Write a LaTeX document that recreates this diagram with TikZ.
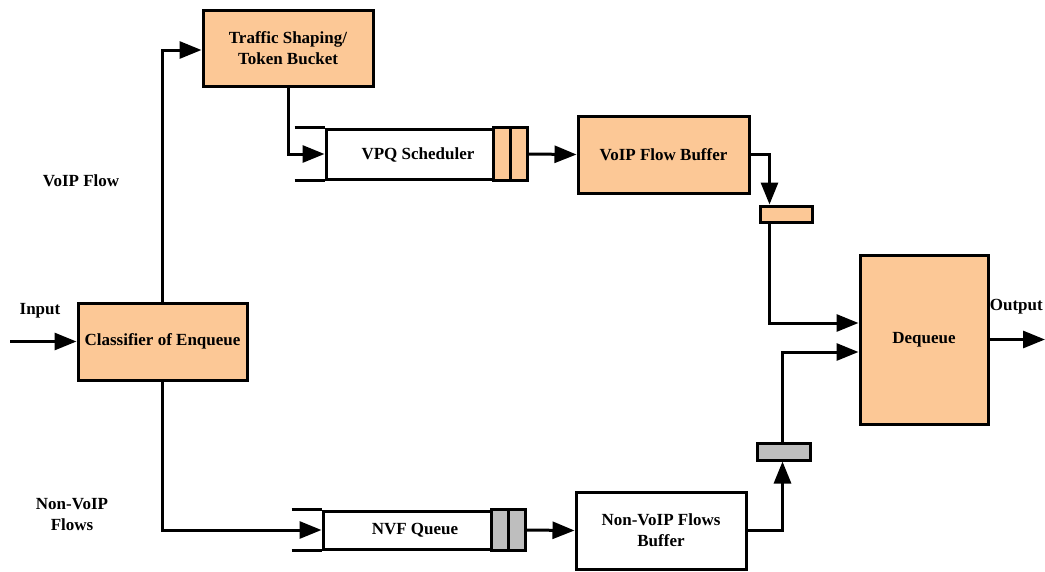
\documentclass[tikz,border=0pt]{standalone}
\usepackage{fontspec}
\setmainfont{Liberation Serif}
\usetikzlibrary{arrows.meta}
\definecolor{peach}{RGB}{252,200,150}
\definecolor{qgray}{RGB}{190,190,190}
\begin{document}
\begin{tikzpicture}[x=1pt,y=-1pt,
  box/.style={draw, line width=3pt, fill=peach, inner sep=0pt, align=center, font=\fontsize{17}{21}\selectfont\bfseries},
  wbox/.style={box, fill=white},
  lbl/.style={inner sep=0pt, align=center, font=\fontsize{17}{21}\selectfont\bfseries},
  arr/.style={line width=3pt, -{Triangle[length=22pt,width=17pt]}},
  ln/.style={line width=3pt}]
\useasboundingbox (0,0) rectangle (1045,571);

\node[box, minimum width=169pt, minimum height=77pt] (cls) at (162.5,341.5) {Classifier of Enqueue};
\node[box, minimum width=170pt, minimum height=76pt] (ts) at (288,48) {Traffic Shaping/\\Token Bucket};
\node[wbox, minimum width=200pt, minimum height=50pt] (vpq) at (426,154) {};
\node[lbl] (vpql) at (418,155) {VPQ Scheduler};
\node[box, minimum width=171pt, minimum height=77pt] (vb) at (663.5,154.5) {VoIP Flow Buffer};
\node[box, minimum width=52pt, minimum height=16pt] (sp) at (786,214) {};
\node[box, minimum width=128pt, minimum height=169pt] (dq) at (924,339.5) {Dequeue};
\node[wbox, minimum width=201pt, minimum height=38pt] (nvf) at (423.5,530) {};
\node[lbl] (nvfl) at (415,530) {NVF Queue};
\node[wbox, minimum width=170pt, minimum height=77pt] (nvb) at (661,530.5) {Non-VoIP Flows\\Buffer};
\node[box, fill=qgray, minimum width=53pt, minimum height=17pt] (gs) at (783.5,451.5) {};

% queue cells
\draw[ln, fill=peach] ([xshift=-34pt]vpq.north east) rectangle ([xshift=-17pt]vpq.south east);
\draw[ln, fill=peach] ([xshift=-17pt]vpq.north east) rectangle (vpq.south east);
\draw[ln] ([xshift=-30pt]vpq.north west) -- (vpq.north west);
\draw[ln] ([xshift=-30pt]vpq.south west) -- (vpq.south west);
\draw[ln, fill=qgray] ([xshift=-34pt]nvf.north east) rectangle ([xshift=-17pt]nvf.south east);
\draw[ln, fill=qgray] ([xshift=-17pt]nvf.north east) rectangle (nvf.south east);
\draw[ln] ([xshift=-30pt]nvf.north west) -- (nvf.north west);
\draw[ln] ([xshift=-30pt]nvf.south west) -- (nvf.south west);

% labels
\node[lbl] (inl) at (40,311) {Input};
\node[lbl] (voipl) at (81,181) {VoIP Flow};
\node[lbl] (nvl) at (72,515) {Non-VoIP\\Flows};
\node[lbl, anchor=east] (outl) at (1043,307) {Output};

% connectors
\coordinate (in) at (10,341.5);
\coordinate (out) at (1045,339.5);
\draw[arr] (in) -- (cls.west);
\draw[arr] (cls.north) |- ([yshift=-2pt]ts.west);
\draw[arr] (ts.south) |- (vpq.west);
\draw[arr] (vpq.east) -- (vb.west);
\draw[arr] (vb.east) -| ([xshift=11pt]sp.north west);
\draw[arr] ([xshift=11pt]sp.south west) |- ([yshift=16.5pt]dq.west);
\draw[arr] (dq.east) -- (out);
\draw[arr] (cls.south) |- (nvf.west);
\draw[arr] (nvf.east) -- (nvb.west);
\draw[arr] (nvb.east) -| ([xshift=27pt]gs.south west);
\draw[arr] ([xshift=27pt]gs.north west) |- ([yshift=-12.5pt]dq.west);
\end{tikzpicture}
\end{document}
